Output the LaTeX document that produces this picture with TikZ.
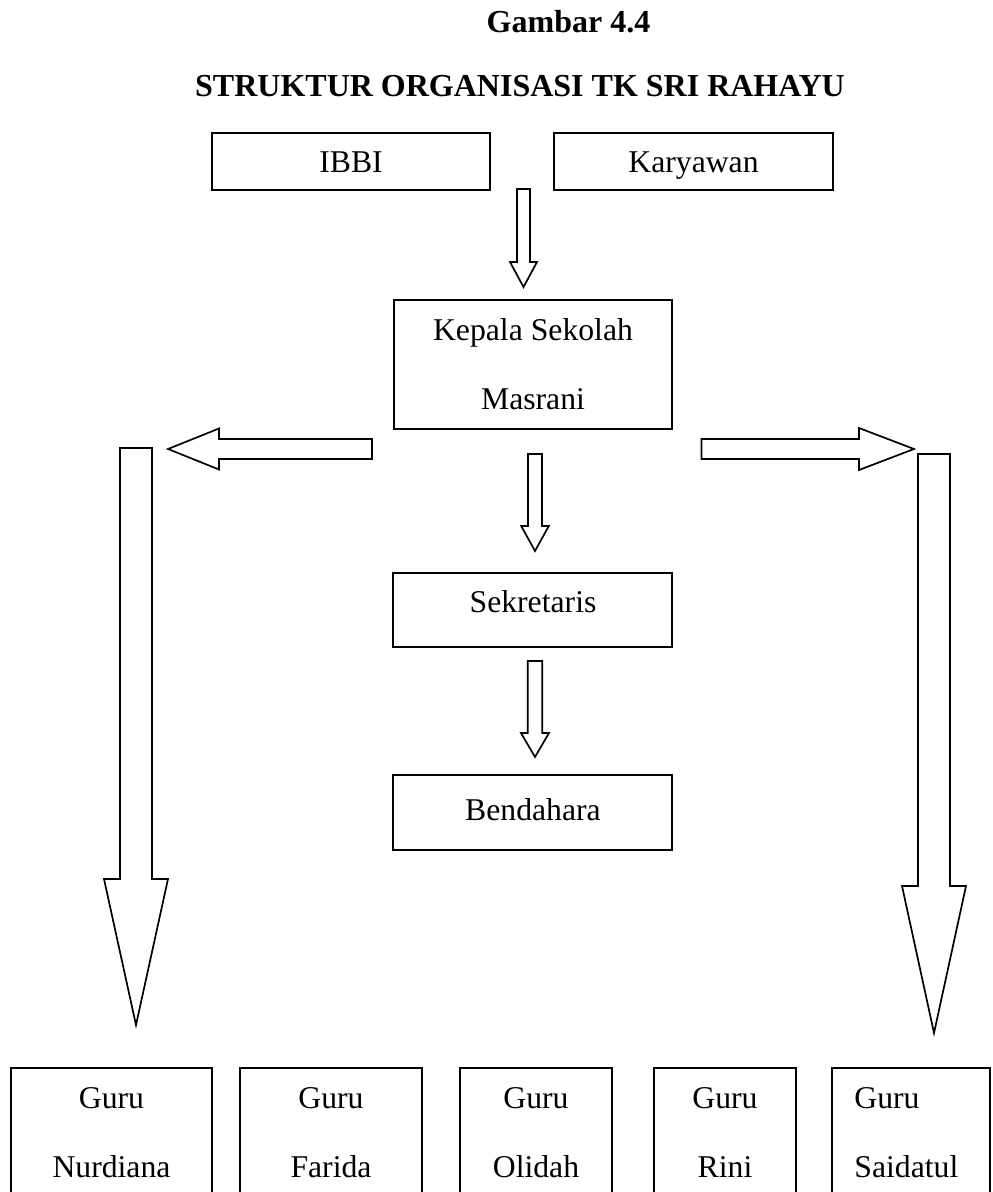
\documentclass[tikz,border=0pt]{standalone}
\usepackage{fontspec}
\setmainfont{Liberation Serif}
\usetikzlibrary{fit}

% hollow block arrows: vertical (cx, top, head base, tip, shaft half-width, head half-width)
\newcommand\blockvert[6]{%
  \draw[blk] ({#1-#5},#2) -- ({#1+#5},#2) -- ({#1+#5},#3) -- ({#1+#6},#3)
    -- (#1,#4) -- ({#1-#6},#3) -- ({#1-#5},#3) -- cycle;}
% horizontal (tail x, head base x, tip x, cy, shaft half-width, head half-width)
\newcommand\blockhoriz[6]{%
  \draw[blk] (#1,{#4-#5}) -- (#2,{#4-#5}) -- (#2,{#4-#6}) -- (#3,#4)
    -- (#2,{#4+#6}) -- (#2,{#4+#5}) -- (#1,{#4+#5}) -- cycle;}

\begin{document}
\begin{tikzpicture}[x=0.5pt,y=-0.5pt,
  box/.style={draw, line width=0.85pt, inner sep=0pt},
  lbl/.style={anchor=base, inner sep=0pt, font=\fontsize{15.85}{19}\selectfont},
  ttl/.style={anchor=base, inner sep=0pt, font=\fontsize{16}{19}\selectfont\bfseries},
  blk/.style={draw, line width=0.85pt, line join=miter}]
\clip (0,0) rectangle (992,1192);
\fill[white] (0,0) rectangle (992,1192);

% titles
\node[ttl] (t1) at (568.5,32.3) {Gambar 4.4};
\node[ttl] (t2) at (520,96.7) {STRUKTUR ORGANISASI TK SRI RAHAYU};

% top row
\node[box, fit={(212,133) (490,190)}] (ibbi) {};
\node[lbl] (ibbiT) at (351,173) {IBBI};
\node[box, fit={(554,133) (833,190)}] (kary) {};
\node[lbl] (karyT) at (693.5,173) {Karyawan};

% head of school
\node[box, fit={(394,300) (672,429)}] (kepala) {};
\node[lbl] (kepalaT1) at (533,340) {Kepala Sekolah};
\node[lbl] (kepalaT2) at (533,409) {Masrani};

% secretary and treasurer
\node[box, fit={(393,573) (672,647)}] (sekr) {};
\node[lbl] (sekrT) at (533,612) {Sekretaris};
\node[box, fit={(393,775) (672,850)}] (bend) {};
\node[lbl] (bendT) at (533,820) {Bendahara};

% teachers (boxes run past the lower edge)
\node[box, fit={(11,1068) (212,1230)}] (g1) {};
\node[box, fit={(240,1068) (422,1230)}] (g2) {};
\node[box, fit={(460,1068) (612,1230)}] (g3) {};
\node[box, fit={(654,1068) (796,1230)}] (g4) {};
\node[box, fit={(832,1068) (990,1230)}] (g5) {};
\node[lbl] (g1a) at (111.5,1108) {Guru};
\node[lbl] (g1b) at (111.5,1177) {Nurdiana};
\node[lbl] (g2a) at (331,1108) {Guru};
\node[lbl] (g2b) at (331,1177) {Farida};
\node[lbl] (g3a) at (536,1108) {Guru};
\node[lbl] (g3b) at (536,1177) {Olidah};
\node[lbl] (g4a) at (725,1108) {Guru};
\node[lbl] (g4b) at (725,1177) {Rini};
\node[lbl, anchor=base west] (g5a) at (854,1108) {Guru};
\node[lbl, anchor=base west] (g5b) at (854,1177) {Saidatul};

% block arrows
\blockvert{523.5}{189}{262}{287}{6.5}{13.5}
\blockvert{535}{454}{526}{551}{7}{13.8}
\blockvert{535}{661}{733}{757}{7.3}{14}
\blockhoriz{372}{219}{168}{449}{10}{20.5}
\blockhoriz{701.5}{859}{914}{449}{10}{21}
\blockvert{136}{448}{879}{1025}{16}{32}
\blockvert{934}{454}{886}{1033}{16}{32}
\end{tikzpicture}
\end{document}
